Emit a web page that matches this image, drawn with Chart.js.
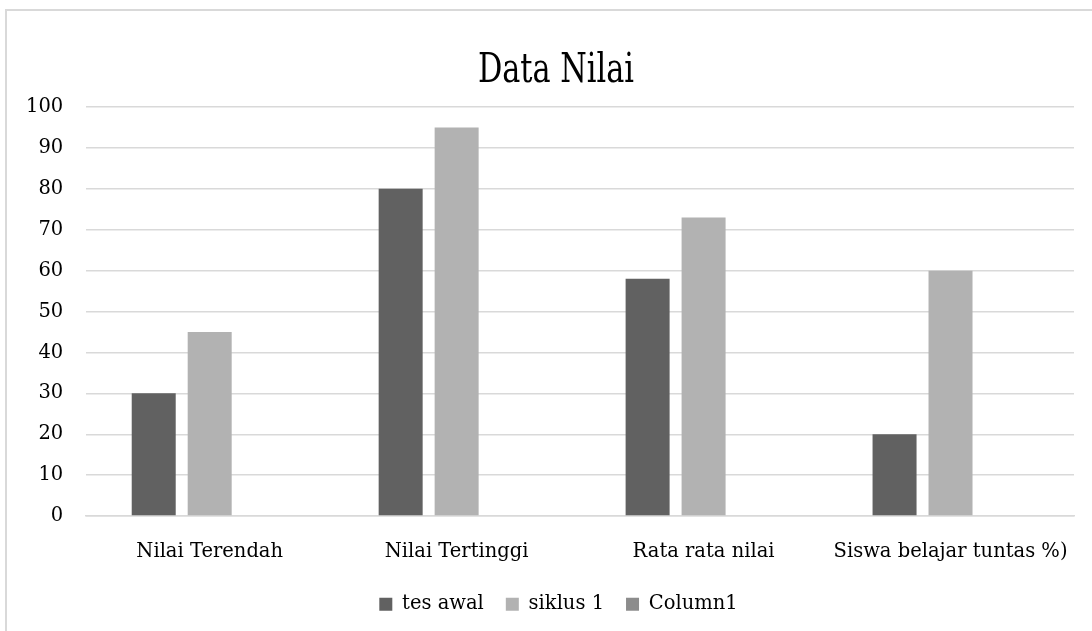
<!DOCTYPE html>
<html>
<head>
<meta charset="utf-8">
<script src="https://cdn.jsdelivr.net/npm/chart.js@4.4.1/dist/chart.umd.min.js"></script>
<style>
  html, body { margin: 0; padding: 0; background: #fff; }
  #wrap { position: relative; width: 1092px; height: 631px; overflow: hidden; }
  #frame { position: absolute; left: 5px; top: 9px; width: 1200px; height: 700px;
           border: 2px solid #d9d9d9; box-sizing: border-box; }
  #cv { position: absolute; left: 0; top: 0; }
</style>
</head>
<body>
<div id="wrap">
  <div id="frame"></div>
  <canvas id="cv" width="1092" height="631"></canvas>
</div>
<script>
// Score summary: initial test vs. first cycle
const chartTitle = "Data Nilai";
const categories = ["Nilai Terendah", "Nilai Tertinggi", "Rata rata nilai", "Siswa belajar tuntas %)"];
const tesAwal   = [30, 80, 58, 20];
const siklus1   = [45, 95, 73, 60];
const column1   = [null, null, null, null];
const yTicks    = [0, 10, 20, 30, 40, 50, 60, 70, 80, 90, 100];

const serif = "'DejaVu Serif', serif";

// Narrow, tall title drawn centred above the plot
const titlePlugin = {
  id: 'narrowTitle',
  afterDraw(chart) {
    const ctx = chart.ctx;
    ctx.save();
    ctx.fillStyle = '#000';
    ctx.font = "41px 'DejaVu Serif', serif";
    ctx.textAlign = 'center';
    ctx.textBaseline = 'alphabetic';
    ctx.translate(556, 82);
    ctx.scale(0.74, 1);
    ctx.fillText(chartTitle, 0, 0);
    ctx.restore();
  }
};

// Nudge the legend row slightly right and up
const legendNudge = {
  id: 'legendNudge',
  afterLayout(chart) {
    const lg = chart.legend;
    lg.left += 20; lg.right += 20;
    lg.top -= 7; lg.bottom -= 7;
  }
};

new Chart(document.getElementById('cv'), {
  type: 'bar',
  data: {
    labels: categories,
    datasets: [
      { label: 'tes awal', data: tesAwal, backgroundColor: '#616161' },
      { label: 'siklus 1', data: siklus1, backgroundColor: '#b2b2b2' },
      { label: 'Column1',  data: column1, backgroundColor: '#8c8c8c' }
    ]
  },
  plugins: [titlePlugin, legendNudge],
  options: {
    responsive: false,
    animation: false,
    events: [],
    categoryPercentage: 0.68,
    barPercentage: 0.786,
    layout: { padding: { left: 3, right: 18, top: 107, bottom: 0 } },
    plugins: {
      title: { display: false },
      legend: {
        position: 'bottom',
        labels: {
          color: '#000',
          font: { family: serif, size: 19.5 },
          boxWidth: 13,
          boxHeight: 13,
          padding: 22
        }
      },
      tooltip: { enabled: false }
    },
    scales: {
      x: {
        grid: { display: false },
        border: { color: '#d9d9d9', width: 1.5 },
        ticks: { color: '#000', font: { family: serif, size: 19.5 }, padding: 16, maxRotation: 0 }
      },
      y: {
        min: 0,
        max: 100,
        afterBuildTicks: (axis) => { axis.ticks = yTicks.map(v => ({ value: v })); },
        grid: { color: '#d9d9d9', lineWidth: 1.5, drawTicks: false },
        border: { display: false },
        ticks: { color: '#000', font: { family: serif, size: 19.5 }, padding: 23 }
      }
    }
  }
});
</script>
</body>
</html>
